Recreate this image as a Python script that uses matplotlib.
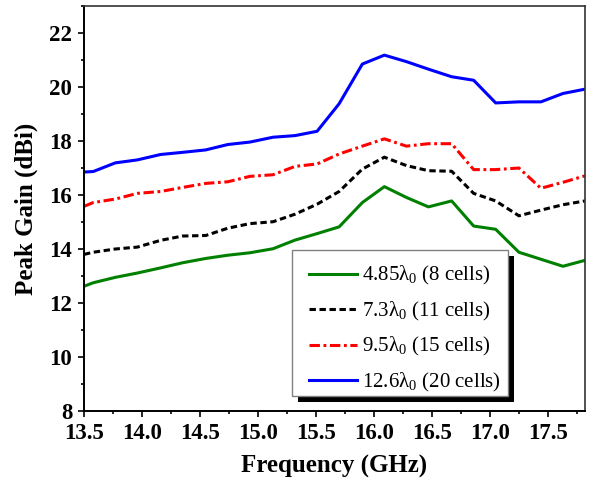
import matplotlib
matplotlib.use('Agg')
import matplotlib.pyplot as plt
from matplotlib.patches import Rectangle
from matplotlib.ticker import MultipleLocator

freq = [13.5, 13.58, 13.77, 13.96, 14.16, 14.35, 14.55, 14.74, 14.93, 15.13, 15.32, 15.51,
        15.70, 15.90, 16.09, 16.28, 16.47, 16.67, 16.86, 17.05, 17.25, 17.44, 17.63, 17.82]

gain_8 = [12.62, 12.75, 12.95, 13.11, 13.30, 13.49, 13.65, 13.77, 13.86, 14.01, 14.33, 14.57,
          14.82, 15.72, 16.31, 15.91, 15.56, 15.78, 14.85, 14.73, 13.88, 13.62, 13.36, 13.58]
gain_11 = [13.80, 13.88, 14.00, 14.07, 14.32, 14.48, 14.50, 14.77, 14.94, 15.01, 15.29, 15.66,
           16.13, 16.96, 17.40, 17.09, 16.90, 16.88, 16.06, 15.78, 15.23, 15.44, 15.64, 15.78]
gain_15 = [15.58, 15.72, 15.85, 16.06, 16.13, 16.28, 16.43, 16.49, 16.69, 16.75, 17.06, 17.15,
           17.52, 17.81, 18.08, 17.81, 17.90, 17.90, 16.94, 16.94, 17.00, 16.25, 16.47, 16.71]
gain_20 = [16.85, 16.87, 17.19, 17.30, 17.50, 17.58, 17.67, 17.87, 17.96, 18.14, 18.20, 18.36,
           19.38, 20.85, 21.18, 20.94, 20.66, 20.38, 20.25, 19.41, 19.45, 19.45, 19.76, 19.92]

labels = [r'4.85$\lambda_0$ (8 cells)', r'7.3$\lambda_0$ (11 cells)',
          r'9.5$\lambda_0$ (15 cells)', r'12.6$\lambda_0$ (20 cells)']

plt.rcParams['font.family'] = ['Liberation Serif', 'DejaVu Serif']
plt.rcParams['mathtext.fontset'] = 'custom'
plt.rcParams['mathtext.rm'] = 'Liberation Serif'
plt.rcParams['mathtext.it'] = 'Liberation Serif'
plt.rcParams['lines.scale_dashes'] = False

fig = plt.figure(figsize=(5.95, 4.84), dpi=100)
ax = fig.add_axes([84 / 595, 1 - 411 / 484, 501 / 595, 405 / 484])

lw = 2.2
ax.plot(freq, gain_8, color='#008000', lw=lw, label=labels[0])
ax.plot(freq, gain_11, color='black', lw=lw, dashes=(4.6, 2.6), label=labels[1])
ax.plot(freq, gain_15, color='#ff0000', lw=lw, dashes=(7.5, 2.6, 2.0, 2.6), label=labels[2])
ax.plot(freq, gain_20, color='#0000ff', lw=lw, label=labels[3])

ax.set_xlim(13.5, 17.82)
ax.set_ylim(8, 23)
ax.xaxis.set_major_locator(MultipleLocator(0.5))
ax.xaxis.set_minor_locator(MultipleLocator(0.25))
ax.yaxis.set_major_locator(MultipleLocator(2))
ax.yaxis.set_minor_locator(MultipleLocator(1))
ax.xaxis.set_major_formatter(plt.FormatStrFormatter('%.1f'))
ax.tick_params(which='major', direction='out', length=4.5, width=1.2, labelsize=16.5, pad=4)
ax.tick_params(which='minor', direction='out', length=2.2, width=1.2)
ax.tick_params(top=False, right=False)
for lab in ax.get_xticklabels() + ax.get_yticklabels():
    lab.set_fontweight('bold')
for side in ['left', 'bottom']:
    ax.spines[side].set_linewidth(1.4)
for side in ['top', 'right']:
    ax.spines[side].set_linewidth(1.2)
    ax.spines[side].set_color('#333333')

ax.set_xlabel('Frequency (GHz)', fontsize=18, fontweight='bold', labelpad=8)
ax.set_ylabel('Peak Gain (dBi)', fontsize=18, fontweight='bold', labelpad=8)

# legend box with a black drop shadow, drawn by hand so the padding can be set freely
box_x0, box_y0, box_w, box_h = 0.415, 0.037, 0.431, 0.361
shadow = Rectangle((box_x0 + 0.012, box_y0 - 0.015), box_w, box_h, transform=ax.transAxes,
                   facecolor='black', edgecolor='none', zorder=5, clip_on=False)
frame = Rectangle((box_x0, box_y0), box_w, box_h, transform=ax.transAxes,
                  facecolor='white', edgecolor='#808080', lw=1.0, zorder=5.5)
ax.add_patch(shadow)
ax.add_patch(frame)

leg = ax.legend(loc='upper left', bbox_to_anchor=(0.449, 0.362), borderaxespad=0,
                borderpad=0, frameon=False, fontsize=15,
                handlelength=2.3, handletextpad=0.25, labelspacing=0.6)
leg.set_zorder(6)

fig.savefig('out.png', dpi=100)
